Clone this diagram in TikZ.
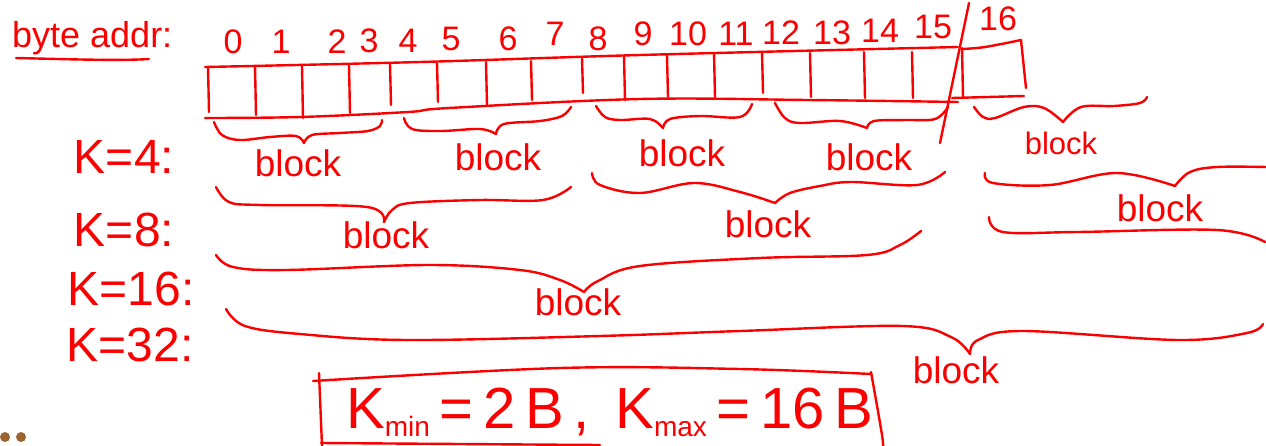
\documentclass[tikz,border=0pt]{standalone}
\usepackage{fontspec}
\setmainfont{Liberation Sans}
\definecolor{ink}{RGB}{250,0,0}
\definecolor{dotbrown}{RGB}{156,100,48}
\tikzset{
  pen/.style={draw=ink, line width=2.4pt, line cap=round, line join=round},
  num/.style={text=ink, font=\fontsize{34}{34}\selectfont, inner sep=0pt},
  klabel/.style={text=ink, font=\fontsize{48}{48}\selectfont, inner sep=0pt},
  blk/.style={text=ink, font=\fontsize{37}{37}\selectfont, inner sep=0pt},
  brc/.style={pen, smooth, tension=0.6},
}
\begin{document}
\begin{tikzpicture}[x=1pt,y=-1pt]
\useasboundingbox (0,0) rectangle (1266,445);
% title
\node[text=ink, font=\fontsize{36}{36}\selectfont, inner sep=0pt, anchor=base west] (byteaddr) at (12,47) {byte addr:};
\draw[pen] (16,58) .. controls (60,59) and (120,61) .. (149,59);
% numbers
\foreach \n/\x/\y in {0/233/42,1/281/42,2/337/42,3/369/41,4/408/41,5/451/39,6/508/39,7/555/34,8/598/39,9/643/34,10/688/34,11/736/34,12/781/33,13/832/33,14/880/31,15/933/27,16/998/19}
  \node[num] (n\n) at (\x,\y) {\n};
% array
\draw[brc] plot coordinates {(205,67) (420,62) (640,55) (958,47)};
\draw[brc] plot coordinates {(205,118) (300,117) (408,112) (449,108) (640,99) (808,100) (958,102)};
\foreach \x/\t/\b in {208/67/112,255/66/115,302/66/118,349/65/113,390/64/105,437/63/102,486/62/105,531/61/100,582/58/93,624/56/100,667/55/97,714/53/97,762/52/93,810/53/97,864/52/98,912/52/98,962/48/97}
  \draw[pen] (\x,\t) -- (\x+1,\b);
% cell 16
\draw[brc] plot coordinates {(962,49) (985,47) (1021,40)};
\draw[pen] (1021,40) -- (1026,88);
\draw[pen] (952,98) -- (1024,96);
% slash
\draw[pen] (969,3) -- (940,143);
% K labels
\node[klabel] (k4) at (124,157) {K=4:};
\node[klabel] (k8) at (124,230) {K=8:};
\node[klabel] (k16) at (131,289) {K=16:};
\node[klabel] (k32) at (130,345) {K=32:};
% K=4 braces
\draw[brc] plot coordinates {(214,122) (222,135) (240,140) (270,137) (296,136) (304,143)};
\draw[brc] plot coordinates {(304,143) (312,135) (340,133) (368,131) (380,126) (382,120)};
\draw[brc] plot coordinates {(404,118) (412,129) (441,131) (480,129) (496,134)};
\draw[brc] plot coordinates {(496,134) (504,124) (540,121) (562,116) (571,107)};
\draw[brc] plot coordinates {(596,106) (605,117) (620,120) (650,119) (663,128)};
\draw[brc] plot coordinates {(663,128) (670,119) (700,116) (740,117) (752,104)};
\draw[brc] plot coordinates {(775,103) (785,118) (800,123) (840,121) (867,128)};
\draw[brc] plot coordinates {(867,128) (874,121) (905,120) (935,119) (948,107)};
\draw[brc] plot coordinates {(974,107) (983,117) (995,118) (1024,107) (1044,108) (1063,122)};
\draw[brc] plot coordinates {(1063,122) (1081,107) (1114,106) (1140,103) (1147,97)};
\node[blk] (b41) at (298,163) {block};
\node[blk] (b42) at (498,157) {block};
\node[blk] (b43) at (682,153) {block};
\node[blk] (b44) at (869,157) {block};
\node[blk, font=\fontsize{31}{31}\selectfont] (b45) at (1061,143) {block};
% K=8 braces
\draw[brc] plot coordinates {(216,187) (229,202) (260,205) (367,207) (384,222)};
\draw[brc] plot coordinates {(384,222) (392,210) (410,203) (480,200) (543,200) (571,187)};
\draw[brc] plot coordinates {(592,173) (600,185) (640,193) (694,183) (740,192) (775,203)};
\draw[brc] plot coordinates {(775,203) (790,193) (820,186) (851,182) (917,185) (945,172)};
\draw[brc] plot coordinates {(985,173) (993,183) (1050,185) (1117,173) (1175,186)};
\draw[brc] plot coordinates {(1175,186) (1190,172) (1217,167) (1266,167)};
\node[blk] (b81) at (386,235) {block};
\node[blk] (b82) at (768,224) {block};
\node[blk] (b83) at (1160,208) {block};
% K=16 brace
\draw[brc] plot coordinates {(216,255) (233,267) (286,270) (429,265) (520,270) (560,280) (584,292)};
\draw[brc] plot coordinates {(584,292) (598,281) (640,266) (760,258) (867,255) (900,245) (921,231)};
\draw[brc] plot coordinates {(989,217) (1003,232) (1077,232) (1217,230) (1265,242)};
\node[blk] (b161) at (578,302) {block};
% K=32 brace
\draw[brc] plot coordinates {(226,309) (245,326) (300,334) (407,340) (600,336) (740,331) (902,326) (951,337) (970,354)};
\draw[brc] plot coordinates {(970,354) (978,340) (1023,331) (1178,340) (1247,333) (1263,324)};
\node[blk] (b321) at (956,370) {block};
% box
\draw[pen] (319,373) -- (322,446);
\draw[brc] plot coordinates {(313,381) (560,368) (740,369) (871,374)};
\draw[brc] plot coordinates {(871,372) (882,435) (883,450)};
\draw[pen] (321,443) -- (600,445);
\node[text=ink, font=\fontsize{58}{58}\selectfont, inner sep=0pt, anchor=base west] (kk) at (346,428)
  {K\raisebox{-0.15em}{\fontsize{28}{28}\selectfont min}\,=\,2\,B\,,\ \,K\raisebox{-0.15em}{\fontsize{28}{28}\selectfont max}\,=\,16\,B};
% dots
\fill[dotbrown] (5,437) circle (5);
\fill[dotbrown] (21,437) circle (5);
\end{tikzpicture}
\end{document}
